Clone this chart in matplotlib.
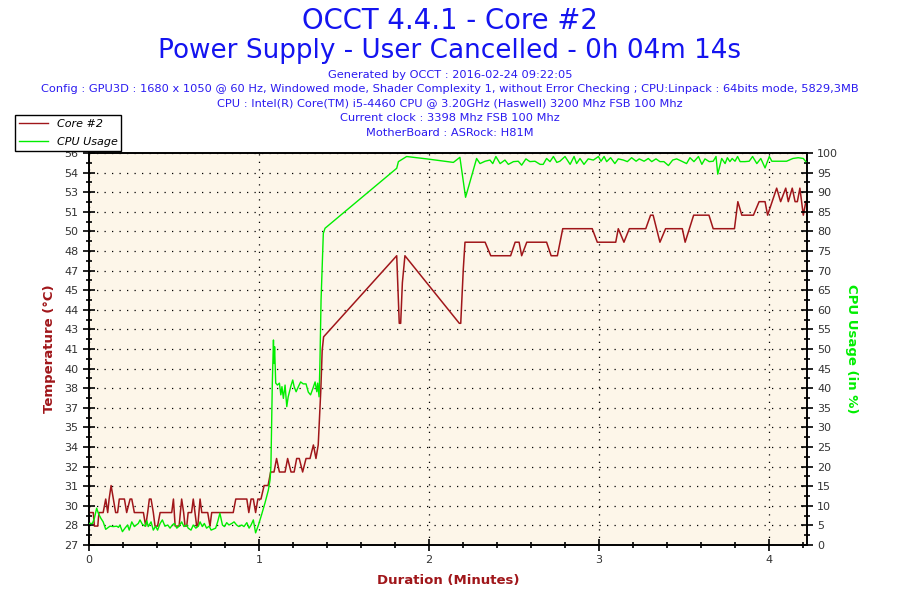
import numpy as np
import matplotlib
matplotlib.use("Agg")
import matplotlib.pyplot as plt
from matplotlib.lines import Line2D
from matplotlib.ticker import MultipleLocator, AutoMinorLocator

# --- data (time in seconds) ---
temp_sec = [0, 1.5, 1.9, 3.1, 3.5, 5.0, 5.9, 6.6, 7.1, 7.8, 8.6, 9.4, 10.1, 10.7, 12.5,
            13.3, 14.5, 15.1, 16.0, 19.2, 20.0, 20.7, 21.3, 21.9, 22.7, 23.3, 24.2, 25.1,
            29.2, 29.8, 30.4, 31.8, 32.7, 33.4, 33.9, 34.5, 35.0, 36.2, 36.8, 37.4, 38.0,
            38.4, 39.2, 39.8, 41.9, 42.7, 43.3, 50.9, 51.8, 55.7, 56.4, 57.2, 58.0, 58.8,
            59.6, 60.7, 61.8, 63.2, 64.1, 65.3, 66.2, 67.2, 69.2, 70.1, 71.3, 72.4, 73.3,
            74.2, 75.4, 76.6, 78.0, 79.2, 80.1, 80.9, 81.8, 82.3, 82.8, 108.6, 109.5,
            110.0, 110.6, 111.5, 130.7, 131.2, 132.1, 132.7, 133.5, 139.8, 141.8, 148.8,
            150.4, 151.8, 152.7, 154.5, 161.5, 163.1, 165.3, 167.2, 177.6, 179.4, 185.9,
            186.8, 188.8, 190.7, 196.5, 198.2, 199.1, 201.5, 203.5, 209.4, 210.4, 213.4,
            218.8, 220.3, 227.8, 229.0, 230.4, 234.5, 236.5, 238.6, 239.5, 242.7, 244.1,
            245.9, 246.8, 248.2, 249.2, 250.0, 250.9, 252.1, 253.0]
temp_c = [29, 29, 28, 28, 29, 29, 30, 29, 30, 31, 30, 29, 29, 30, 30,
          29, 30, 30, 29, 29, 28, 29, 30, 30, 29, 28, 28, 29,
          29, 30, 28, 28, 30, 29, 28, 28, 29, 29, 30, 29, 28,
          28, 30, 29, 29, 28, 29, 29, 30, 30, 29, 30, 30, 29,
          30, 30, 31, 31, 32, 32, 33, 32, 32, 33, 32, 32, 33,
          33, 32, 33, 33, 34, 33, 34, 38, 41, 42, 48, 43,
          43, 46, 48, 43, 43, 47, 49, 49, 49, 48, 48,
          49, 49, 48, 49, 49, 48, 48, 50, 50, 49, 49,
          50, 49, 50, 50, 51, 51, 49, 50, 50, 49, 51,
          51, 50, 50, 52, 51, 51, 52, 52, 51, 53, 52,
          53, 52, 53, 52, 52, 53, 51, 52]

cpu_sec = [0, 1.2, 1.9, 2.7, 3.3, 4.2, 5.0, 5.9, 7.4, 8.6, 9.8, 10.4, 10.9, 11.8, 12.7,
           13.6, 14.2, 15.1, 16.0, 17.4, 18.0, 18.8, 19.8, 20.4, 20.9, 21.9, 22.7, 23.5,
           24.2, 25.1, 25.9, 26.8, 27.8, 28.6, 29.4, 30.1, 31.0, 31.8, 32.7, 33.5, 34.5,
           35.0, 36.0, 36.8, 37.7, 38.6, 39.2, 40.0, 40.7, 41.5, 42.4, 43.1, 44.7, 45.4,
           46.2, 47.1, 47.8, 48.6, 49.4, 50.4, 51.2, 52.1, 52.9, 53.9, 54.7, 55.7, 56.5,
           57.2, 58.0, 58.8, 59.8, 60.9, 62.1, 63.3, 63.9, 64.2, 64.5, 64.7, 65.1, 65.3,
           65.5, 65.9, 66.5, 67.2, 67.7, 68.1, 68.6, 69.2, 69.8, 70.3, 71.2, 71.9, 72.4,
           73.1, 73.9, 74.7, 75.6, 76.6, 77.4, 78.2, 79.0, 79.8, 80.4, 80.7, 81.2, 81.5,
           81.8, 81.9, 82.7, 83.3, 108.6, 109.2, 112.1, 119.2, 128.6, 130.9, 132.9,
           136.8, 138.0, 139.8, 141.5, 142.5, 143.6, 145.1, 146.8, 148.0, 149.8, 151.5,
           152.7, 154.2, 155.6, 157.4, 159.2, 160.3, 161.5, 162.7, 163.9, 165.1, 166.2,
           168.0, 169.8, 171.2, 172.1, 173.3, 174.7, 176.2, 178.0, 179.8, 180.7, 181.8,
           182.7, 184.1, 185.6, 186.8, 188.6, 190.0, 191.5, 193.1, 194.2, 195.9, 197.4,
           198.6, 200.1, 201.5, 202.9, 204.5, 206.0, 207.4, 209.2, 210.9, 212.1, 213.5,
           215.1, 216.3, 217.4, 218.9, 220.3, 221.3, 221.9, 223.3, 224.5, 225.3, 226.2,
           227.0, 228.0, 228.9, 229.8, 231.5, 233.0, 234.2, 235.7, 237.1, 238.6, 240.1,
           241.0, 246.2, 248.4, 250.3, 252.1, 253.0]
cpu_pct = [5.5, 5.5, 6.8, 9.4, 8.1, 6.8, 5.9, 4.0, 4.8, 4.7, 4.8, 4.5, 5.1, 3.4, 4.3,
           5.1, 3.8, 5.9, 4.7, 5.5, 6.4, 5.3, 4.8, 6.2, 4.7, 5.9, 3.8, 4.8,
           3.8, 5.5, 6.4, 4.8, 5.1, 4.3, 5.1, 5.5, 4.3, 4.8, 5.9, 4.7, 5.1,
           4.3, 3.8, 5.1, 4.3, 4.8, 5.9, 4.7, 5.5, 4.3, 4.8, 3.8, 4.3, 5.9,
           8.1, 5.1, 4.7, 5.7, 5.1, 5.5, 5.9, 5.1, 4.7, 5.1, 4.7, 5.7, 4.3,
           5.1, 6.4, 3.1, 5.1, 7.7, 10.7, 14.0, 16.6, 19.9, 31.9, 41.3, 52.3, 46.3,
           50.6, 41.3, 40.8, 41.3, 38.3, 40.4, 37.4, 40.8, 35.3, 37.8, 40.4, 42.1, 40.4,
           39.1, 40.4, 41.6, 41.1, 41.1, 39.0, 38.3, 39.9, 41.6, 39.1, 41.3, 37.8, 46.3,
           57.4, 62.5, 79.5, 80.8, 96.1, 97.8, 99.1, 98.5, 97.6, 98.9, 88.7,
           98.6, 97.3, 97.9, 98.2, 97.3, 99.1, 97.3, 98.2, 97.1, 97.8, 97.9,
           96.9, 98.5, 97.8, 97.9, 97.1, 97.1, 98.6, 97.8, 99.1, 97.6, 97.9,
           99.1, 97.1, 99.1, 97.3, 98.6, 97.1, 98.5, 98.2, 99.1, 97.9, 99.1,
           97.8, 98.8, 97.3, 98.5, 98.2, 97.8, 98.8, 97.9, 98.5, 97.9, 98.6,
           97.8, 98.5, 97.8, 97.8, 96.8, 98.2, 98.5, 97.9, 97.3, 98.8, 97.8,
           99.1, 97.1, 98.5, 97.8, 97.9, 99.1, 94.6, 98.6, 97.3, 98.8, 97.8,
           98.6, 97.9, 99.1, 97.8, 97.8, 97.9, 99.1, 97.3, 98.6, 96.2, 99.1,
           97.9, 97.9, 98.6, 98.8, 98.6, 97.8]

temp_tick_labels = ["27", "28", "30", "31", "32", "34", "35", "37", "38", "40", "41",
                    "43", "44", "45", "47", "48", "50", "51", "53", "54", "56"]

title_lines = ["OCCT 4.4.1 - Core #2",
               "Power Supply - User Cancelled - 0h 04m 14s"]
info_lines = ["Generated by OCCT : 2016-02-24 09:22:05",
              "Config : GPU3D : 1680 x 1050 @ 60 Hz, Windowed mode, Shader Complexity 1, "
              "without Error Checking ; CPU:Linpack : 64bits mode, 5829,3MB",
              "CPU : Intel(R) Core(TM) i5-4460 CPU @ 3.20GHz (Haswell) 3200 Mhz FSB 100 Mhz",
              "Current clock : 3398 Mhz FSB 100 Mhz",
              "MotherBoard : ASRock: H81M"]

RED = "#A0161A"
GREEN = "#00EE00"
BLUE = "#1414F0"
INFO = "#2A1AF0"
TICKC = "#333333"

plt.rcParams["font.family"] = ["DejaVu Sans"]

fig = plt.figure(figsize=(9, 6), dpi=100)
ax = fig.add_axes([89 / 900, 55 / 600, (806.7 - 89) / 900, (545 - 153) / 600])
ax.set_facecolor("#FDF6E9")
ax2 = ax.twinx()

t_temp = np.array(temp_sec) / 60
t_cpu = np.array(cpu_sec) / 60

ax.plot(t_temp, temp_c, color=RED, lw=1.1, zorder=3)
ax2.plot(t_cpu, cpu_pct, color=GREEN, lw=1.0, zorder=3)

ax.set_xlim(0, 253.3 / 60)
ax.set_ylim(26.6, 55.6)
ax2.set_ylim(0, 100)

ax.set_yticks(np.linspace(26.6, 55.6, 21))
ax.set_yticklabels(temp_tick_labels)
ax.yaxis.set_minor_locator(AutoMinorLocator(2))
ax2.yaxis.set_major_locator(MultipleLocator(5))
ax2.yaxis.set_minor_locator(MultipleLocator(2.5))
ax.xaxis.set_major_locator(MultipleLocator(1))
ax.xaxis.set_minor_locator(MultipleLocator(0.2))

for a in (ax, ax2):
    a.tick_params(which="major", direction="inout", length=9, width=1.2,
                  labelsize=8, labelcolor=TICKC, pad=3)
    a.tick_params(which="minor", direction="inout", length=5, width=1.2)
    for s in a.spines.values():
        s.set_linewidth(1.2)
        s.set_color("black")

ax.grid(True, which="major", color="black", lw=0.9, linestyle=(0, (1, 5)))

ax.set_xlabel("Duration (Minutes)", color=RED, fontsize=9.5, fontweight="bold", labelpad=6)
ax.set_ylabel("Temperature (°C)", color=RED, fontsize=9.5, fontweight="bold", labelpad=6)
ax2.set_ylabel("CPU Usage (in %)", color=GREEN, fontsize=9.5, fontweight="bold",
               rotation=270, labelpad=14)

fig.text(0.5, 1 - 21 / 600, title_lines[0], ha="center", va="center",
         fontsize=19.8, color=BLUE)
fig.text(0.5, 1 - 51 / 600, title_lines[1], ha="center", va="center",
         fontsize=18.9, color=BLUE)
for i, line in enumerate(info_lines):
    fig.text(0.5, 1 - (74.5 + 14.5 * i) / 600, line, ha="center", va="center",
             fontsize=8.2, color=INFO)

handles = [Line2D([], [], color=RED, lw=1), Line2D([], [], color=GREEN, lw=1)]
leg = fig.legend(handles, ["Core #2", "CPU Usage"], loc="upper left",
                 bbox_to_anchor=(15 / 900, 1 - 115 / 600), frameon=True, fancybox=False,
                 edgecolor="black", framealpha=1, borderpad=0.35, handlelength=2.6,
                 handletextpad=0.8, labelspacing=0.75, borderaxespad=0,
                 prop={"style": "italic", "size": 8})
leg.get_frame().set_linewidth(1.0)
leg.set_zorder(10)

fig.savefig("out.png", dpi=100)
